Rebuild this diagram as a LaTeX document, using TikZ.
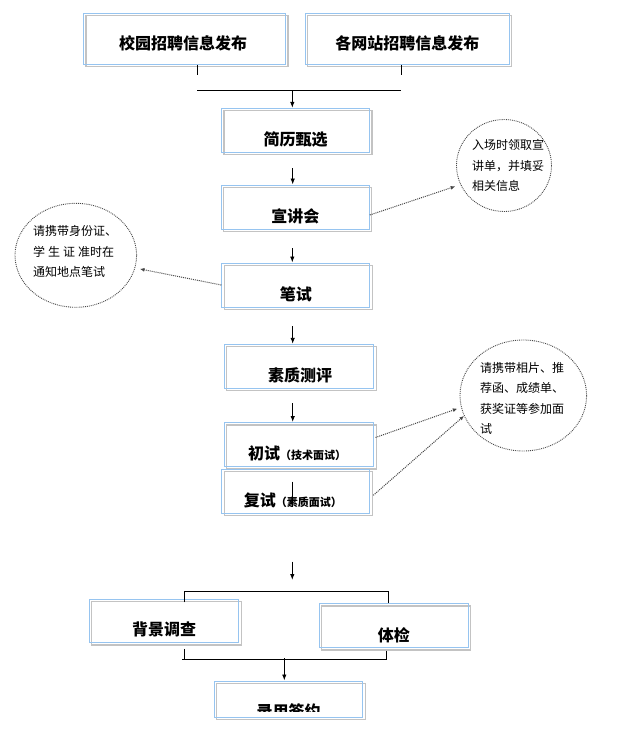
\documentclass[tikz,border=0pt]{standalone}
\usepackage{fontspec}
\newfontfamily\cjk{Noto Sans CJK SC}
\usetikzlibrary{shapes.geometric,arrows.meta,shadows}
\definecolor{boxblue}{RGB}{150,196,240}
\definecolor{shadowgray}{RGB}{195,195,195}
\definecolor{notegray}{RGB}{70,70,70}
\newcommand\boxfont{\cjk\bfseries\fontsize{16}{16}\selectfont}
\newcommand\smallboxfont{\cjk\bfseries\fontsize{11}{11}\selectfont}
\newcommand\notefont{\cjk\fontsize{12}{20.5}\selectfont}
\tikzset{
  flow/.style={rectangle, draw=boxblue, line width=1pt, minimum width=148pt,
    minimum height=44pt, inner sep=0pt,
    general shadow={draw=shadowgray, line width=1.3pt, shadow xshift=2.5pt, shadow yshift=-2.5pt}},
  boxtext/.style={font=\boxfont, inner sep=0pt},
  note/.style={ellipse, draw=notegray, densely dotted, line width=0.9pt, inner sep=0pt},
  notetext/.style={font=\notefont, align=left, inner sep=0pt, anchor=west},
  line/.style={draw=black, line width=0.9pt},
  arr/.style={line, -{Latex[length=6pt,width=4.5pt]}},
  darr/.style={draw=notegray, densely dotted, line width=1pt, -{Latex[length=4.5pt,width=4pt]}}
}
\begin{document}
\begin{tikzpicture}[x=1pt,y=-1pt]
\useasboundingbox (0,0) rectangle (628,741);
% boxes
\node[flow, minimum width=202pt, minimum height=51pt,
  label={[boxtext, yshift=-4.2pt, xshift=-1.5pt]center:校园招聘信息发布}] (b1) at (184.5,38.8) {};
\node[flow, minimum width=204pt, minimum height=51pt,
  label={[boxtext, yshift=-4.2pt]center:各网站招聘信息发布}] (b2) at (407.3,38.8) {};
\node[flow, label={[boxtext, yshift=-8.7pt]center:简历甄选}] (b3) at (295.5,130.3) {};
\node[flow, label={[boxtext, yshift=-9.7pt]center:宣讲会}] (b4) at (295.3,207) {};
\node[flow, label={[boxtext, yshift=-9.3pt]center:笔试}] (b5) at (295.8,285) {};
\node[flow, minimum width=149.4pt, label={[boxtext, yshift=-8.7pt, xshift=1pt]center:素质测评}] (b6) at (299,366.3) {};
\node[flow, minimum width=149.4pt, label={[boxtext, yshift=-8.8pt, xshift=-2pt]center:初试{\smallboxfont（技术面试）}}] (b7) at (299,444.5) {};
\node[flow, label={[boxtext, yshift=-8.7pt, xshift=-3pt]center:复试{\smallboxfont（素质面试）}}] (b8) at (295.8,491.3) {};
\node[flow, minimum width=149.4pt, minimum height=43.3pt, label={[boxtext, yshift=-8.3pt]center:背景调查}] (b9) at (164,620.7) {};
\node[flow, minimum width=149pt, label={[boxtext, yshift=-9.5pt]center:体检}] (b10) at (393.8,625.5) {};
\node[flow, minimum width=148.4pt, minimum height=36pt] (b11) at (288.5,699) {};
\begin{scope}
  \clip (214,681) rectangle (363,711.5);
  \node[boxtext] (t11) at (288.5,711) {录用签约};
\end{scope}
% notes
\node[note, minimum width=95pt, minimum height=92pt] (e1) at (504,165.5) {};
\node[notetext] (e1t) at (472,165.5) {入场时领取宣\\讲单，并填妥\\相关信息};
\node[note, minimum width=121.6pt, minimum height=104pt] (e2) at (75.8,255.3) {};
\node[notetext] (e2t) at (33,251.7) {请携带身份证、\\学\hspace{3pt}生\hspace{3pt}证\hspace{3pt}准时在\\通知地点笔试};
\node[note, minimum width=126.6pt, minimum height=111pt] (e3) at (523.3,395.5) {};
\node[notetext] (e3t) at (480,398.5) {请携带相片、推\\荐函、成绩单、\\获奖证等参加面\\试};
% top merge
\coordinate (s1) at (197.3,75);
\coordinate (s2) at (401,75);
\coordinate (h1) at (197.3,90.7);
\coordinate (h2) at (401,90.7);
\coordinate (j1) at (292.3,90.7);
\draw[line] (b1.south -| s1) -- (s1);
\draw[line] (b2.south -| s2) -- (s2);
\draw[line] (h1) -- (h2);
\draw[arr] (j1) -- (j1 |- b3.north);
% main arrows
\coordinate (a2) at (292.7,168);
\coordinate (a3) at (292.3,248);
\coordinate (a4) at (292.7,326);
\coordinate (a5) at (292.7,403.3);
\draw[arr] (a2) -- (a2 |- b4.north);
\draw[arr] (a3) -- (a3 |- b5.north);
\draw[arr] (a4) -- (a4 |- b6.north);
\draw[arr] (a5) -- (a5 |- b7.north);
\coordinate (l1) at (292.3,481.7);
\coordinate (l2) at (292.3,506.7);
\draw[line] (l1) -- (l2);
\coordinate (a6) at (292.3,561.7);
\coordinate (a6e) at (292.3,580);
\draw[arr] (a6) -- (a6e);
% split
\coordinate (sp) at (184.3,591.3);
\coordinate (sq) at (388.3,591.3);
\draw[line] ([yshift=-3.7pt]b9.north -| sp) -- (sp) -- (sq) -- (sq |- b10.north);
% merge
\coordinate (mp) at (184.3,659);
\coordinate (mq) at (386.3,659);
\coordinate (ml) at (182.3,659);
\coordinate (mr) at (387.3,659);
\coordinate (ma) at (284.3,658.3);
\draw[line] ([yshift=-6pt]b9.south -| mp) -- (mp);
\draw[line] ([yshift=-2.5pt]b10.south -| mq) -- (mq);
\draw[line] (ml) -- (mr);
\draw[arr] (ma) -- (ma |- b11.north);
% dotted notes arrows
\draw[darr] ([yshift=-8pt]b4.east) -- ([xshift=-6pt]e1.206);
\draw[darr] (b5.west) -- ([xshift=5pt]e2.-13);
\draw[darr] ([xshift=1.3pt,yshift=7pt]b7.east) -- ([xshift=-4pt]e3.192);
\draw[darr] ([xshift=3pt,yshift=-4pt]b8.east) -- (e3.199);
\end{tikzpicture}
\end{document}
